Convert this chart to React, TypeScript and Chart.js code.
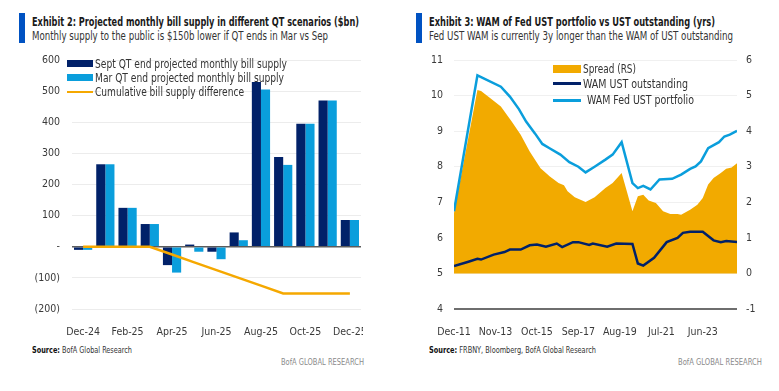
import React, { useEffect, useLayoutEffect, useRef } from 'react';
import { Chart, registerables } from 'chart.js';

Chart.register(...registerables);

const FONT = "'DejaVu Sans Condensed','Liberation Sans',sans-serif";
const NAVY = '#012169';
const LIGHT = '#0A9EDC';
const ORANGE = '#F5A800';
const SPREAD_FILL = '#F2AA00';
const TICK_COLOR = '#3a3a3a';

// ---------- Exhibit 2 data ----------
const billMonths = ['Dec-24', 'Jan-25', 'Feb-25', 'Mar-25', 'Apr-25', 'May-25', 'Jun-25', 'Jul-25', 'Aug-25', 'Sep-25', 'Oct-25', 'Nov-25', 'Dec-25'];
const septSupply = [-10, 265, 125, 73, -59, 7, -16, 46, 529, 288, 395, 470, 86];
const marSupply = [-10, 265, 125, 73, -83, -16, -40, 21, 505, 263, 395, 470, 86];
const cumDiff = [0, 0, 0, 0, -25, -50, -75, -100, -125, -150, -150, -150, -150];

// ---------- Exhibit 3 data (x = months since Dec-11) ----------
const wamTickMonths = [0, 23, 46, 69, 92, 115, 138];
const wamTickLabels = ['Dec-11', 'Nov-13', 'Oct-15', 'Sep-17', 'Aug-19', 'Jul-21', 'Jun-23'];

const fedMonths = [0, 13, 26, 31, 36, 40, 45, 49, 53, 59, 64, 69, 73, 78, 84, 88, 93, 99, 102, 105, 109, 114, 121, 126, 131, 134, 137, 141, 147, 150, 153, 157];
const fedWam = [6.75, 10.57, 10.25, 9.97, 9.62, 9.27, 8.93, 8.64, 8.52, 8.34, 8.13, 8.0, 7.84, 8.0, 8.2, 8.34, 8.69, 7.54, 7.4, 7.46, 7.36, 7.64, 7.66, 7.78, 7.94, 8.01, 8.15, 8.52, 8.69, 8.85, 8.9, 9.01];

const ustMonths = [0, 8, 13, 15, 22, 28, 31, 37, 42, 46, 51, 57, 60, 66, 69, 75, 77, 85, 90, 99, 102, 105, 111, 118, 124, 127, 131, 138, 144, 148, 151, 157];
const ustWam = [5.21, 5.33, 5.41, 5.39, 5.53, 5.6, 5.67, 5.67, 5.79, 5.81, 5.75, 5.84, 5.74, 5.88, 5.88, 5.8, 5.84, 5.75, 5.84, 5.83, 5.28, 5.22, 5.44, 5.88, 6.0, 6.14, 6.17, 6.17, 5.93, 5.88, 5.91, 5.88];

const spreadMonths = [0, 13, 15, 20, 26, 32, 37, 42, 48, 51, 53, 58, 61, 63, 67, 73, 78, 84, 88, 93, 99, 102, 105, 108, 112, 116, 120, 124, 126, 131, 135, 138, 141, 144, 148, 151, 154, 157];
const spread = [1.7, 5.16, 5.13, 4.93, 4.69, 4.27, 3.9, 3.43, 2.96, 2.82, 2.73, 2.54, 2.48, 2.31, 2.14, 2.01, 2.14, 2.4, 2.54, 2.82, 1.75, 2.17, 2.21, 2.05, 1.98, 1.75, 1.67, 1.67, 1.65, 1.79, 1.93, 2.12, 2.5, 2.68, 2.82, 2.94, 2.98, 3.1];

const pts = (xs: number[], ys: number[]) => xs.map((x, i) => ({ x, y: ys[i] }));

const tickFont = { family: FONT, size: 10.5 };

function BillChart() {
  const ref = useRef<HTMLCanvasElement>(null);
  useEffect(() => {
    const chart = new Chart(ref.current!, {
      type: 'bar',
      data: {
        labels: billMonths,
        datasets: [
          { type: 'line', label: 'Cumulative bill supply difference', data: cumDiff, borderColor: ORANGE, borderWidth: 2.5, pointRadius: 0, fill: false, tension: 0, order: 0 } as any,
          { label: 'Sept QT end projected monthly bill supply', data: septSupply, backgroundColor: NAVY, categoryPercentage: 0.82, barPercentage: 1, order: 1 },
          { label: 'Mar QT end projected monthly bill supply', data: marSupply, backgroundColor: LIGHT, categoryPercentage: 0.82, barPercentage: 1, order: 1 },
        ],
      },
      options: {
        animation: false,
        responsive: false,
        devicePixelRatio: 1,
        layout: { padding: { left: 0, right: 2, top: 10, bottom: 0 } },
        plugins: { legend: { display: false }, tooltip: { enabled: false } },
        scales: {
          x: {
            grid: { display: false },
            border: { display: false },
            ticks: {
              autoSkip: false, maxRotation: 0, padding: 9, color: TICK_COLOR, font: tickFont,
              callback: (_v: any, i: number) => (i % 2 === 0 ? billMonths[i] : ''),
            },
            afterFit: (s: any) => { s.height = 31; s.paddingLeft = 0; s.paddingRight = 0; },
          },
          y: {
            min: -200, max: 600,
            ticks: {
              stepSize: 100, padding: 12, color: TICK_COLOR, font: tickFont,
              callback: (v: any) => (v === 0 ? '-' : v < 0 ? `(${-v})` : `${v}`),
            },
            grid: {
              drawTicks: false,
              color: (c: any) => (c.tick && c.tick.value === 0 ? '#5c5c5c' : '#ececec'),
              lineWidth: (c: any) => (c.tick && c.tick.value === 0 ? 1.5 : 1),
            },
            border: { display: false },
            afterFit: (s: any) => { s.width = 72; s.paddingTop = 0; s.paddingBottom = 0; },
          },
        },
      } as any,
    });
    return () => chart.destroy();
  }, []);
  return <canvas ref={ref} width={363} height={290} style={{ position: 'absolute', left: 0, top: 50, width: 363, height: 290 }} />;
}

function WamChart() {
  const ref = useRef<HTMLCanvasElement>(null);
  useEffect(() => {
    const chart = new Chart(ref.current!, {
      type: 'line',
      data: {
        datasets: [
          { label: 'Spread (RS)', data: pts(spreadMonths, spread), yAxisID: 'y2', borderWidth: 0, backgroundColor: SPREAD_FILL, fill: 'origin', pointRadius: 0, tension: 0, order: 3 },
          { label: 'WAM UST outstanding', data: pts(ustMonths, ustWam), yAxisID: 'y', borderColor: NAVY, borderWidth: 2.5, pointRadius: 0, fill: false, tension: 0, order: 1 },
          { label: 'WAM Fed UST portfolio', data: pts(fedMonths, fedWam), yAxisID: 'y', borderColor: LIGHT, borderWidth: 2.5, pointRadius: 0, fill: false, tension: 0, order: 2 },
        ],
      },
      options: {
        animation: false,
        responsive: false,
        devicePixelRatio: 1,
        layout: { padding: { left: 0, right: 0, top: 10, bottom: 0 } },
        plugins: { legend: { display: false }, tooltip: { enabled: false } },
        scales: {
          x: {
            type: 'linear', min: 0, max: 157,
            afterBuildTicks: (s: any) => { s.ticks = wamTickMonths.map((v) => ({ value: v })); },
            grid: { display: false },
            border: { display: false },
            ticks: {
              autoSkip: false, maxRotation: 0, padding: 9, color: TICK_COLOR, font: tickFont,
              callback: (_v: any, i: number) => wamTickLabels[i] ?? '',
            },
            afterFit: (s: any) => { s.height = 31; s.paddingLeft = 0; s.paddingRight = 0; },
          },
          y: {
            position: 'left', min: 4, max: 11,
            ticks: { stepSize: 1, padding: 11, color: TICK_COLOR, font: tickFont },
            grid: {
              drawTicks: false,
              color: (c: any) => (c.tick && c.tick.value === 4 ? '#6e6e6e' : '#f0f0f0'),
              lineWidth: (c: any) => (c.tick && c.tick.value === 4 ? 2 : 1),
            },
            border: { display: false },
            afterFit: (s: any) => { s.width = 54; s.paddingTop = 0; s.paddingBottom = 0; },
          },
          y2: {
            position: 'right', min: -1, max: 6,
            ticks: { stepSize: 1, padding: 9, color: TICK_COLOR, font: tickFont },
            grid: { display: false, drawTicks: false },
            border: { display: false },
            afterFit: (s: any) => { s.width = 42; s.paddingTop = 0; s.paddingBottom = 0; },
          },
        },
      } as any,
    });
    return () => chart.destroy();
  }, []);
  return <canvas ref={ref} width={379} height={290} style={{ position: 'absolute', left: 400, top: 50, width: 379, height: 290 }} />;
}

// Text placed at a left edge and vertical centre, horizontally scaled to the width measured in the reference.
function FitText({ left, cy, width, children, style }: { left: number; cy: number; width: number; children: React.ReactNode; style?: React.CSSProperties }) {
  const ref = useRef<HTMLDivElement>(null);
  useLayoutEffect(() => {
    const el = ref.current;
    if (!el) return;
    el.style.transform = 'none';
    const w = el.getBoundingClientRect().width;
    if (w > 0) el.style.transform = `scaleX(${width / w})`;
  }, [width]);
  return (
    <div ref={ref} style={{ position: 'absolute', left, top: cy - 7, lineHeight: '14px', whiteSpace: 'nowrap', transformOrigin: '0 50%', ...style }}>
      {children}
    </div>
  );
}

const abs = (s: React.CSSProperties): React.CSSProperties => ({ position: 'absolute', ...s });

export default function App() {
  const legendText: React.CSSProperties = { fontSize: 12, color: '#333' };
  const titleStyle: React.CSSProperties = { fontSize: 12, fontWeight: 'bold', color: '#1a1a1a' };
  const subStyle: React.CSSProperties = { fontSize: 11.5, color: '#333' };
  const srcStyle: React.CSSProperties = { fontSize: 8.5, color: '#333' };
  const brandStyle: React.CSSProperties = { fontSize: 8.5, color: '#8a8a8a' };
  return (
    <div style={{ position: 'fixed', left: 0, top: 0, width: 779, height: 391, background: '#fff', overflow: 'hidden', fontFamily: FONT }}>
      {/* Exhibit 2 header */}
      <div style={abs({ left: 19, top: 13, width: 6, height: 30, background: '#0052C2' })} />
      <FitText left={32} cy={22} width={327} style={titleStyle}>Exhibit 2: Projected monthly bill supply in different QT scenarios ($bn)</FitText>
      <FitText left={32} cy={36} width={296} style={subStyle}>Monthly supply to the public is $150b lower if QT ends in Mar vs Sep</FitText>

      {/* Exhibit 3 header */}
      <div style={abs({ left: 416, top: 13, width: 6, height: 30, background: '#0052C2' })} />
      <FitText left={429} cy={22} width={286} style={titleStyle}>Exhibit 3: WAM of Fed UST portfolio vs UST outstanding (yrs)</FitText>
      <FitText left={429} cy={36} width={304} style={subStyle}>Fed UST WAM is currently 3y longer than the WAM of UST outstanding</FitText>

      <BillChart />
      <WamChart />

      {/* Exhibit 2 legend */}
      <div style={abs({ left: 67, top: 60, width: 26, height: 7, background: NAVY })} />
      <FitText left={95} cy={63.5} width={192} style={legendText}>Sept QT end projected monthly bill supply</FitText>
      <div style={abs({ left: 67, top: 74, width: 26, height: 7, background: LIGHT })} />
      <FitText left={95} cy={77.5} width={189} style={legendText}>Mar QT end projected monthly bill supply</FitText>
      <div style={abs({ left: 67, top: 90.5, width: 26, height: 2.5, background: ORANGE })} />
      <FitText left={95} cy={92} width={149} style={legendText}>Cumulative bill supply difference</FitText>

      {/* Exhibit 3 legend */}
      <div style={abs({ left: 553, top: 65, width: 28, height: 8, background: SPREAD_FILL })} />
      <FitText left={583} cy={68.5} width={53} style={legendText}>Spread (RS)</FitText>
      <div style={abs({ left: 553, top: 82, width: 28, height: 2.5, background: NAVY })} />
      <FitText left={583} cy={83.5} width={105} style={legendText}>WAM UST outstanding</FitText>
      <div style={abs({ left: 553, top: 99, width: 28, height: 2.5, background: LIGHT })} />
      <FitText left={587} cy={100} width={107} style={legendText}>WAM Fed UST portfolio</FitText>

      {/* Sources */}
      <FitText left={32} cy={350} width={100} style={srcStyle}><b style={{ color: '#111' }}>Source:</b> BofA Global Research</FitText>
      <FitText left={429} cy={350} width={167} style={srcStyle}><b style={{ color: '#111' }}>Source:</b> FRBNY, Bloomberg, BofA Global Research</FitText>
      <FitText left={281} cy={362} width={83} style={brandStyle}>BofA GLOBAL RESEARCH</FitText>
      <FitText left={678} cy={362} width={84} style={brandStyle}>BofA GLOBAL RESEARCH</FitText>
    </div>
  );
}
